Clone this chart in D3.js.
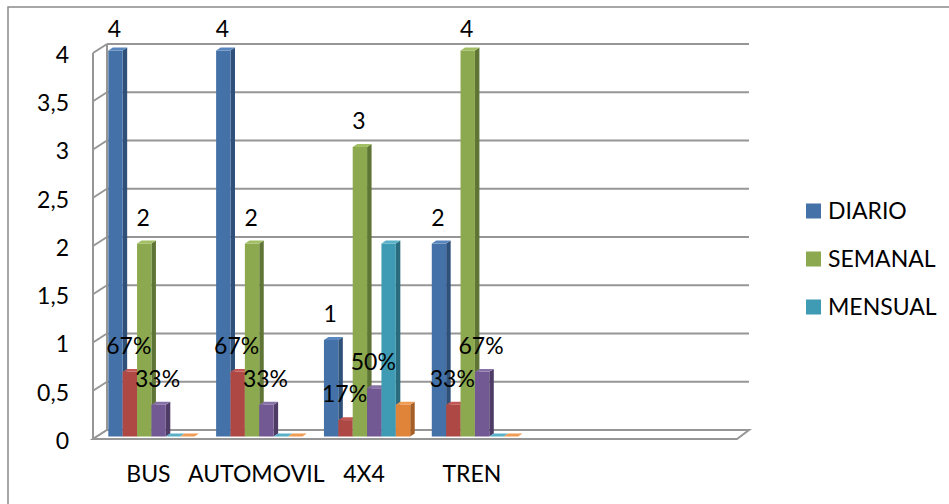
<!DOCTYPE html>
<html>
<head>
<meta charset="utf-8">
<script src="https://cdn.jsdelivr.net/npm/d3@7"></script>
<style>
  html, body { margin: 0; padding: 0; background: #fff; }
  svg { display: block; font-family: Lato, "Open Sans", sans-serif; }
</style>
</head>
<body>
<svg id="chart" width="949" height="504"></svg>
<script>
// Category slots on the floor (the last two are empty)
const categories = ["BUS", "AUTOMOVIL", "4X4", "TREN", "", ""];
const seriesNames = ["DIARIO", "% DIARIO", "SEMANAL", "% SEMANAL", "MENSUAL", "% MENSUAL"];

// Values per category
const diario     = [4, 4, 1, 2];
const pctDiario  = [0.67, 0.67, 0.17, 0.33];
const semanal    = [2, 2, 3, 4];
const pctSemanal = [0.33, 0.33, 0.5, 0.67];
const mensual    = [0, 0, 2, 0];
const pctMensual = [0, 0, 0.33, 0];

const yTicks = [0, 0.5, 1, 1.5, 2, 2.5, 3, 3.5, 4];
const legendNames = ["DIARIO", "SEMANAL", "MENSUAL"];

const seriesValues = [diario, pctDiario, semanal, pctSemanal, mensual, pctMensual];
const labelled = [true, true, true, true, false, false];
const isPercent = [false, true, false, true, false, true];

const palette = [
  { front: "#4472A8", side: "#2F5078", top: "#5A86BE" },
  { front: "#AE4845", side: "#7A2F2E", top: "#C25855" },
  { front: "#8CA94F", side: "#5F7535", top: "#A2BF65" },
  { front: "#725993", side: "#4E3C67", top: "#8771A6" },
  { front: "#3E9BB3", side: "#2A6B7D", top: "#5AB1C7" },
  { front: "#E0843A", side: "#A65F26", top: "#F09C55" }
];
const legendColor = { DIARIO: palette[0].front, SEMANAL: palette[2].front, MENSUAL: palette[4].front };

const FONT = 23;
const svg = d3.select("#chart");
const esLocale = d3.formatLocale({ decimal: ",", thousands: ".", grouping: [3], currency: ["", "€"] });
const tickFmt = esLocale.format("");
const pctFmt = d3.format(".0%");

// 3D geometry: back wall, depth offset toward the viewer
const wallLeft = 107, wallRight = 749;
const depthX = 14, depthY = 9;      // back wall -> front edge of floor
const barShiftY = 6.5;              // bars sit between back wall and front edge
const barDX = 4.5, barDY = 2.9;     // depth of each bar

const y = d3.scaleLinear().domain([0, 4]).range([430, 44]);
const yBar = v => y(v) + barShiftY;

const x = d3.scaleBand().domain(d3.range(categories.length))
  .range([97.5, 744.5]).paddingInner(0.2).paddingOuter(0.1);
const xs = d3.scaleBand().domain(d3.range(seriesNames.length))
  .range([0, x.bandwidth()]).padding(0);

const grey = "#969696";

// outer border
svg.append("rect").attr("x", 8).attr("y", 7).attr("width", 960).attr("height", 520)
  .attr("fill", "none").attr("stroke", "#8a8a8a").attr("stroke-width", 1.5);

// back wall gridlines
svg.append("g").selectAll("line").data(yTicks).join("line")
  .attr("x1", wallLeft).attr("x2", wallRight)
  .attr("y1", d => y(d)).attr("y2", d => y(d))
  .attr("stroke", grey).attr("stroke-width", 2);

// side wall: vertical edges and slanted grid ticks
const side = svg.append("g").attr("stroke", grey).attr("stroke-width", 2).attr("fill", "none");
side.append("line").attr("x1", wallLeft - depthX).attr("x2", wallLeft - depthX)
  .attr("y1", y(4) + depthY).attr("y2", y(0) + depthY);
side.append("line").attr("x1", wallLeft).attr("x2", wallLeft)
  .attr("y1", y(4)).attr("y2", y(0));
side.selectAll("line.tick").data(yTicks).join("line").attr("class", "tick")
  .attr("x1", wallLeft - depthX).attr("y1", d => y(d) + depthY)
  .attr("x2", wallLeft).attr("y2", d => y(d));

// floor
svg.append("path")
  .attr("d", `M${wallLeft - depthX},${y(0) + depthY} L${wallLeft},${y(0)} L${wallRight},${y(0)} L${wallRight - 12},${y(0) + depthY} Z`)
  .attr("fill", "#fff").attr("stroke", grey).attr("stroke-width", 2);

// bars: drawn left to right so each front face covers the previous side face
const bars = [];
diario.forEach((_, ci) => {
  seriesValues.forEach((vals, si) => {
    bars.push({ ci, si, v: vals[ci] });
  });
});

const barG = svg.append("g");
bars.forEach(b => {
  const x0 = x(b.ci) + xs(b.si), w = xs.bandwidth();
  const yt = yBar(b.v), yb = yBar(0);
  const c = palette[b.si];
  const g = barG.append("g");
  if (yb - yt > 0.01) {
    g.append("path")
      .attr("d", `M${x0 + w},${yt} L${x0 + w + barDX},${yt - barDY} L${x0 + w + barDX},${yb - barDY} L${x0 + w},${yb} Z`)
      .attr("fill", c.side);
    g.append("rect").attr("x", x0).attr("y", yt).attr("width", w).attr("height", yb - yt)
      .attr("fill", c.front);
  }
  g.append("path")
    .attr("d", `M${x0},${yt} L${x0 + barDX},${yt - barDY} L${x0 + w + barDX},${yt - barDY} L${x0 + w},${yt} Z`)
    .attr("fill", c.top);
});

// value labels
const labelTop = 29;
svg.append("g").attr("font-size", FONT).attr("fill", "#000").attr("text-anchor", "middle")
  .selectAll("text").data(bars.filter(b => labelled[b.si] && b.v > 0)).join("text")
  .attr("x", b => x(b.ci) + xs(b.si) + xs.bandwidth() / 2 - 1)
  .attr("y", b => Math.max(yBar(b.v) - 26, labelTop))
  .attr("dy", "0.35em")
  .text(b => isPercent[b.si] ? pctFmt(b.v) : b.v);

// y axis labels on the front edge
const yFront = y.copy().range([y(0) + 11, y(4) + 11]);
const axis = svg.append("g").attr("transform", "translate(69,0)")
  .call(d3.axisLeft(yFront).tickValues(yTicks).tickFormat(tickFmt).tickSize(0).tickPadding(0));
axis.select(".domain").remove();
axis.selectAll("text").attr("font-size", FONT).attr("font-family", "Lato, 'Open Sans', sans-serif").attr("fill", "#000");

// category labels
svg.append("g").attr("font-size", FONT).attr("fill", "#000").attr("text-anchor", "middle")
  .selectAll("text").data(categories.filter(c => c !== "")).join("text")
  .attr("x", (d, i) => x(i) + x.bandwidth() / 2 - 3)
  .attr("y", 474).attr("dy", "0.35em")
  .text(d => d);

// legend
const leg = svg.append("g").attr("transform", "translate(806,211)");
const legRow = d3.scalePoint().domain(legendNames).range([0, 96]);
legendNames.forEach(n => {
  const r = leg.append("g").attr("transform", `translate(0,${legRow(n)})`);
  r.append("rect").attr("x", 0).attr("y", -7.5).attr("width", 15).attr("height", 15).attr("fill", legendColor[n]);
  r.append("text").attr("x", 22).attr("y", 0).attr("dy", "0.35em").attr("font-size", FONT).attr("fill", "#000").text(n);
});
</script>
</body>
</html>
